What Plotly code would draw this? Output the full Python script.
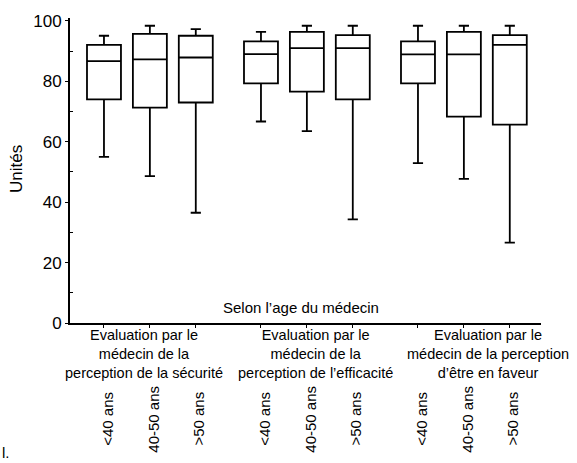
import plotly.graph_objects as go

# ---- data ----
groups = [
    "Evaluation par le<br>médecin de la<br>perception de la sécurité",
    "Evaluation par le<br>médecin de la<br>perception de l’efficacité",
    "Evaluation par le<br>médecin de la perception<br>d’être en faveur",
]
ages = ["<40 ans", "40-50 ans", ">50 ans"]

upper = [95.1, 98.4, 97.3, 96.4, 98.4, 98.4, 98.4, 98.4, 98.4]
q3 = [92.1, 95.7, 95.1, 93.2, 96.4, 95.3, 93.2, 96.4, 95.3]
median = [86.7, 87.3, 87.9, 89.0, 91.0, 91.0, 88.9, 88.9, 92.1]
q1 = [74.0, 71.3, 73.0, 79.3, 76.6, 74.0, 79.3, 68.3, 65.7]
lower = [55.0, 48.6, 36.5, 66.7, 63.5, 34.3, 52.9, 47.7, 26.6]

y_ticks = [0, 20, 40, 60, 80, 100]

# ---- layout helpers ----
group_step = 3.42
positions = [1 + g * group_step + i for g in range(len(groups)) for i in range(len(ages))]

FONT = "Liberation Sans, Arial, Helvetica, sans-serif"

fig = go.Figure()
fig.add_trace(go.Box(
    x=positions,
    q1=q1, median=median, q3=q3,
    lowerfence=lower, upperfence=upper,
    width=0.74,
    whiskerwidth=0.3,
    line=dict(color="black", width=1.8),
    fillcolor="white",
    boxpoints=False,
    hoverinfo="skip",
    showlegend=False,
))

annotations = []
# x-axis inner title
annotations.append(dict(
    text="Selon l’age du médecin", x=0.49, y=5.2, xref="paper", yref="y",
    showarrow=False, font=dict(size=15, color="black", family=FONT),
    xanchor="center", yanchor="middle",
))
# group labels
group_centers_px = [144, 315, 488]
for g, label in enumerate(groups):
    annotations.append(dict(
        text=label, x=(group_centers_px[g] - 70) / 471, y=-0.103,
        xref="paper", yref="paper", showarrow=False,
        font=dict(size=14.5, color="black", family=FONT),
        xanchor="center", yanchor="middle", align="center",
    ))
# rotated age labels
for k, p in enumerate(positions):
    annotations.append(dict(
        text=ages[k % 3], x=p + 0.06, y=-0.315, xref="x", yref="paper",
        showarrow=False, textangle=-90,
        font=dict(size=15, color="black", family=FONT),
        xanchor="center", yanchor="middle",
    ))
# y-axis title
annotations.append(dict(
    text="Unités", x=(17 - 70) / 471, y=0.505, xref="paper", yref="paper",
    showarrow=False, textangle=-90,
    font=dict(size=17, color="black", family=FONT),
    xanchor="center", yanchor="middle",
))
# cropped glyph at bottom-left
annotations.append(dict(
    text="l.", x=(0 - 70) / 471, y=-0.424, xref="paper", yref="paper",
    showarrow=False, font=dict(size=15, color="black", family=FONT),
    xanchor="left", yanchor="middle",
))

fig.update_layout(
    width=577, height=463,
    margin=dict(l=70, r=36, t=12, b=140, pad=0),
    paper_bgcolor="white", plot_bgcolor="white",
    font=dict(family=FONT, color="black"),
    annotations=annotations,
    xaxis=dict(
        range=[0.26, 10.52],
        tickvals=positions, ticktext=[""] * len(positions),
        showline=True, linecolor="black", linewidth=1.8,
        ticks="outside", ticklen=3, tickwidth=1.2, tickcolor="black",
        showgrid=False, zeroline=False, fixedrange=True,
    ),
    yaxis=dict(
        range=[0, 100.97],
        tickvals=y_ticks,
        showline=True, linecolor="black", linewidth=1.8,
        ticks="outside", ticklen=3, tickwidth=1.2, tickcolor="black",
        tickfont=dict(size=17, color="black", family=FONT),
        minor=dict(ticks="inside", ticklen=3, tickwidth=1.2, tickcolor="black",
                   tickvals=[10, 30, 50, 70, 90]),
        showgrid=False, zeroline=False, fixedrange=True,
    ),
)

fig.write_html(
    "out.html",
    config={"displayModeBar": False},
    post_script="document.body.style.margin='0';document.body.style.overflow='hidden';",
)
